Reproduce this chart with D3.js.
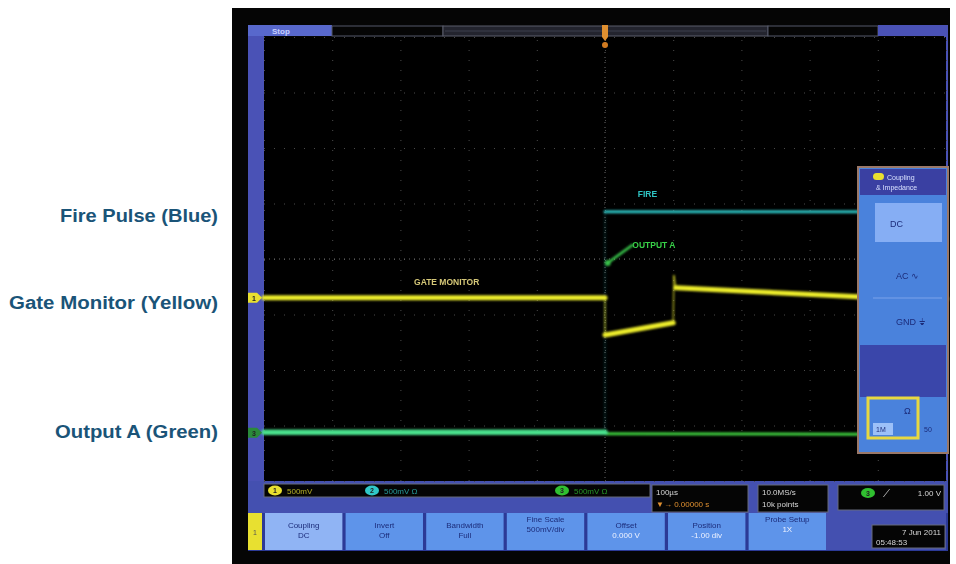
<!DOCTYPE html>
<html><head><meta charset="utf-8">
<script src="https://cdn.jsdelivr.net/npm/d3@7"></script>
<style>
html,body{margin:0;padding:0;background:#fff;}
svg{display:block;}
text{font-family:"Liberation Sans",Arial,sans-serif;}
</style></head>
<body><svg id="c" width="956" height="564"></svg>
<script>
// ---------- data ----------
const channelNames = ["Fire Pulse (Blue)", "Gate Monitor (Yellow)", "Output A (Green)"];
// traces: [time µs, divisions]
const fireTrace   = [[-500,-3.13],[0,-3.13],[0,0.85],[500,0.85]];
const gateTrace   = [[-500,-0.70],[0,-0.70],[0,-1.37],[100,-1.15],[101,-0.30],[104,-0.52],[371,-0.68],[500,-0.72]];
const outputPre   = [[-500,-3.12],[0,-3.12]];
const outputPost  = [[0,-3.15],[500,-3.16]];
const outputLeader= [[4,-0.07],[40,0.25]];
const traceLabels = [{t:48,v:1.17,text:"FIRE",c:"#2fc4c4"},{t:-280,v:-0.42,text:"GATE MONITOR",c:"#d6c878"},{t:40,v:0.25,text:"OUTPUT A",c:"#38d048"}];
const timeTicks = d3.range(-500, 501, 100);
const divTicks  = d3.range(-4, 5, 1);
const buttonNames  = ["Coupling","Invert","Bandwidth","Fine Scale","Offset","Position","Probe Setup"];
const buttonValues = ["DC","Off","Full","500mV/div","0.000 V","-1.00 div","1X"];
const readoutChannels = [{n:"1",text:"500mV",c:"#e8e030"},{n:"2",text:"500mV  Ω",c:"#30c8c8"},{n:"3",text:"500mV  Ω",c:"#30c030"}];
const couplingOptions = ["DC","AC ∿","GND ⏚"];

// ---------- drawing ----------
const svg = d3.select("#c");
const x = d3.scaleLinear().domain([-500,500]).range([264,946]);
const y = d3.scaleLinear().domain([-4,4]).range([481,37]);

// left labels
svg.selectAll("text.lab").data(channelNames).join("text")
  .attr("class","lab")
  .attr("x",218).attr("y",(d,i)=>[222,309,438][i])
  .attr("text-anchor","end").attr("font-size",18).attr("font-weight","bold")
  .attr("textLength",(d,i)=>[158,209,163][i]).attr("lengthAdjust","spacingAndGlyphs")
  .attr("fill","#1a5478").text(d=>d);

// scope body
svg.append("rect").attr("x",232).attr("y",8).attr("width",718).attr("height",556).attr("fill","#050505");
svg.append("rect").attr("x",248).attr("y",25).attr("width",16).attr("height",488).attr("fill","#4a52b6");
svg.append("rect").attr("x",944).attr("y",25).attr("width",4).attr("height",488).attr("fill","#4a52b6");
svg.append("rect").attr("x",248).attr("y",481).attr("width",700).attr("height",32).attr("fill","#4450b0");
svg.append("rect").attr("x",248).attr("y",513).attr("width",700).attr("height",38).attr("fill","#2c3a96");

// top bar
svg.append("rect").attr("x",248).attr("y",25).attr("width",84).attr("height",11).attr("fill","#5868cc");
svg.append("text").attr("x",272).attr("y",34).attr("font-size",8).attr("font-weight","bold").attr("fill","#c8d0ff").text("Stop");
svg.append("rect").attr("x",332).attr("y",26).attr("width",111).attr("height",10).attr("fill","#050505").attr("stroke","#55586a");
svg.append("rect").attr("x",443).attr("y",26).attr("width",325).attr("height",10).attr("fill","#23242e").attr("stroke","#5a5c6a");
svg.append("line").attr("x1",445).attr("x2",766).attr("y1",31).attr("y2",31).attr("stroke","#3c3e4c");
svg.append("rect").attr("x",768).attr("y",26).attr("width",110).attr("height",10).attr("fill","#050505").attr("stroke","#55586a");
svg.append("rect").attr("x",878).attr("y",25).attr("width",70).attr("height",11).attr("fill","#4a52b6");

// plot area
svg.append("rect").attr("x",264).attr("y",37).attr("width",682).attr("height",444).attr("fill","#000");

// grid via axes
const gridG = svg.append("g");
gridG.append("g").attr("transform","translate(0,481)")
  .call(d3.axisBottom(x).tickValues(timeTicks).tickSize(-444).tickFormat(""))
  .call(g=>g.select(".domain").remove())
  .call(g=>g.selectAll(".tick line").attr("stroke","#4a4a4a").attr("stroke-dasharray","1,9"));
gridG.append("g").attr("transform","translate(264,0)")
  .call(d3.axisLeft(y).tickValues(divTicks).tickSize(-682).tickFormat(""))
  .call(g=>g.select(".domain").remove())
  .call(g=>g.selectAll(".tick line").attr("stroke","#4a4a4a").attr("stroke-dasharray","1,9"));
svg.append("line").attr("x1",x(-500)).attr("x2",x(500)).attr("y1",y(0)).attr("y2",y(0))
  .attr("stroke","#6a6a6a").attr("stroke-dasharray","1,4");
svg.append("line").attr("x1",x(0)).attr("x2",x(0)).attr("y1",y(4)).attr("y2",y(-4))
  .attr("stroke","#6a6a6a").attr("stroke-dasharray","1,4");

// trigger marker
svg.append("path").attr("d",`M${x(0)-3},25 h6 v12 l-3,4 l-3,-4 z`).attr("fill","#e09030");
svg.append("circle").attr("cx",x(0)).attr("cy",45).attr("r",3).attr("fill","#d07a20");

// glow filter
const defs = svg.append("defs");
const f = defs.append("filter").attr("id","glow").attr("x","-5%").attr("y","-50%").attr("width","110%").attr("height","200%");
f.append("feGaussianBlur").attr("stdDeviation",0.9);

// draw a trace: flat segments thick, steep (fast-edge) segments thin
const traces = svg.append("g").attr("filter","url(#glow)");
function drawTrace(data, color, w, thinOpacity){
  const segs = d3.pairs(data);
  traces.append("g").selectAll("line").data(segs).join("line")
    .attr("x1",d=>x(d[0][0])).attr("y1",d=>y(d[0][1]))
    .attr("x2",d=>x(d[1][0])).attr("y2",d=>y(d[1][1]))
    .attr("stroke",color).attr("stroke-linecap","round")
    .attr("stroke-width",d=>Math.abs(x(d[1][0])-x(d[0][0]))<3 ? 1.2 : w)
    .attr("opacity",d=>Math.abs(x(d[1][0])-x(d[0][0]))<3 ? thinOpacity : 1);
}
drawTrace(fireTrace,"#2cc0c0",3,0.25);
drawTrace(outputPost,"#3ccc3c",3,1);
drawTrace(outputPre,"#48e08c",5.5,1);
drawTrace(gateTrace,"#ecec2c",5,0.8);
drawTrace(outputLeader,"#38c048",2.5,1);
traces.append("circle").attr("cx",x(4)).attr("cy",y(-0.07)).attr("r",3).attr("fill","#38c048");

svg.selectAll("text.tl").data(traceLabels).join("text").attr("class","tl")
  .attr("x",d=>x(d.t)).attr("y",d=>y(d.v)+3).attr("font-size",8.5).attr("font-weight","bold")
  .attr("fill",d=>d.c).text(d=>d.text);

// channel markers on left
[[-0.70,"#e8e030","1"],[-3.13,"#2a8a3a","3"]].forEach(([v,c,n])=>{
  svg.append("path").attr("d",`M248,${y(v)-5} h9 l5,5 l-5,5 h-9 z`).attr("fill",c);
  svg.append("text").attr("x",252).attr("y",y(v)+3).attr("font-size",7).attr("font-weight","bold").attr("fill","#222").text(n);
});

// right side panel
const p = svg.append("g");
p.append("rect").attr("x",858).attr("y",167).attr("width",90).attr("height",286).attr("fill","#4a82dc").attr("stroke","#9a7868").attr("stroke-width",2);
p.append("rect").attr("x",860).attr("y",169).attr("width",86).attr("height",26).attr("fill","#3a40a2");
p.append("rect").attr("x",873).attr("y",173).attr("width",11).attr("height",7).attr("rx",3.5).attr("fill","#e8e030");
p.append("text").attr("x",887).attr("y",180).attr("font-size",7).attr("fill","#d8e0ff").text("Coupling");
p.append("text").attr("x",876).attr("y",190).attr("font-size",7).attr("fill","#d8e0ff").text("& Impedance");
p.append("rect").attr("x",875).attr("y",203).attr("width",67).attr("height",39).attr("fill","#86aef4");
p.selectAll("text.opt").data(couplingOptions).join("text").attr("class","opt")
  .attr("x",(d,i)=>i===0?890:896).attr("y",(d,i)=>[227,279,325][i]).attr("font-size",9).attr("fill","#1c2c7a").text(d=>d);
p.append("line").attr("x1",873).attr("x2",942).attr("y1",298).attr("y2",298).attr("stroke","#7aa2ea");
p.append("rect").attr("x",860).attr("y",345).attr("width",86).attr("height",52).attr("fill","#3a46aa");
p.append("rect").attr("x",868).attr("y",398).attr("width",50).attr("height",40).attr("fill","#4a82dc").attr("stroke","#e8d840").attr("stroke-width",3);
p.append("text").attr("x",904).attr("y",414).attr("font-size",9).attr("fill","#1c2c7a").text("Ω");
p.append("rect").attr("x",873).attr("y",423).attr("width",20).attr("height",12).attr("fill","#9cc0f8");
p.append("text").attr("x",876).attr("y",432).attr("font-size",7).attr("fill","#1c2c7a").text("1M");
p.append("text").attr("x",924).attr("y",432).attr("font-size",7).attr("fill","#1c2c7a").text("50");

// readout strip
svg.append("rect").attr("x",264).attr("y",484).attr("width",386).attr("height",13).attr("fill","#050505").attr("stroke","#666a7a");
const rx = d3.scalePoint().domain(readoutChannels.map(d=>d.n)).range([275,562]);
readoutChannels.forEach(d=>{
  const cx = d.n==="2" ? 372 : rx(d.n);
  svg.append("ellipse").attr("cx",cx).attr("cy",490.5).attr("rx",7).attr("ry",5).attr("fill",d.c);
  svg.append("text").attr("x",cx-2).attr("y",493).attr("font-size",7).attr("font-weight","bold").attr("fill","#222").text(d.n);
  svg.append("text").attr("x",cx+12).attr("y",494).attr("font-size",8).attr("fill",d.c).attr("opacity",0.75).text(d.text);
});
svg.append("rect").attr("x",652).attr("y",485).attr("width",96).attr("height",27).attr("fill","#050505").attr("stroke","#666a7a");
svg.append("text").attr("x",656).attr("y",495).attr("font-size",8).attr("fill","#d8d8d8").text("100µs");
svg.append("text").attr("x",656).attr("y",507).attr("font-size",8).attr("fill","#e09030").text("▼→ 0.00000 s");
svg.append("rect").attr("x",758).attr("y",485).attr("width",70).attr("height",27).attr("fill","#050505").attr("stroke","#666a7a");
svg.append("text").attr("x",762).attr("y",495).attr("font-size",8).attr("fill","#d8d8d8").text("10.0MS/s");
svg.append("text").attr("x",762).attr("y",507).attr("font-size",8).attr("fill","#d8d8d8").text("10k points");
svg.append("rect").attr("x",838).attr("y",485).attr("width",106).attr("height",25).attr("fill","#050505").attr("stroke","#666a7a");
svg.append("ellipse").attr("cx",868).attr("cy",493).attr("rx",7).attr("ry",5).attr("fill","#30c030");
svg.append("text").attr("x",866).attr("y",496).attr("font-size",7).attr("font-weight","bold").attr("fill","#222").text("3");
svg.append("text").attr("x",883).attr("y",497).attr("font-size",10).attr("fill","#d8d8d8").text("⟋");
svg.append("text").attr("x",941).attr("y",496).attr("text-anchor","end").attr("font-size",8).attr("fill","#d8d8d8").text("1.00 V");

// bottom buttons
svg.append("rect").attr("x",248).attr("y",513).attr("width",14).attr("height",37).attr("fill","#e8e030");
svg.append("text").attr("x",253).attr("y",535).attr("font-size",7).attr("fill","#555").text("1");
const bx = d3.scaleBand().domain(buttonNames).range([265,826]).paddingInner(0.04);
const btn = svg.selectAll("g.btn").data(buttonNames).join("g").attr("class","btn");
btn.append("rect").attr("x",d=>bx(d)).attr("y",513).attr("width",bx.bandwidth()).attr("height",37)
  .attr("fill",(d,i)=>i===0?"#90b4f4":"#5e94ea");
btn.append("text").attr("x",d=>bx(d)+bx.bandwidth()/2).attr("y",(d,i)=>i===3||i===6?522:528)
  .attr("text-anchor","middle").attr("font-size",8).attr("fill","#1c2c7a").text(d=>d);
btn.append("text").attr("x",d=>bx(d)+bx.bandwidth()/2).attr("y",(d,i)=>i===3||i===6?532:538)
  .attr("text-anchor","middle").attr("font-size",8).attr("fill",(d,i)=>i>=4?"#eef2ff":"#1c2c7a").text((d,i)=>buttonValues[i]);
svg.append("rect").attr("x",826).attr("y",513).attr("width",120).attr("height",37).attr("fill","#4450b0");
svg.append("rect").attr("x",872).attr("y",525).attr("width",73).attr("height",23).attr("fill","#050505").attr("stroke","#666a7a");
svg.append("text").attr("x",941).attr("y",535).attr("text-anchor","end").attr("font-size",8).attr("fill","#d8d8d8").text("7 Jun 2011");
svg.append("text").attr("x",876).attr("y",545).attr("font-size",8).attr("fill","#d8d8d8").text("05:48:53");
</script></body></html>
